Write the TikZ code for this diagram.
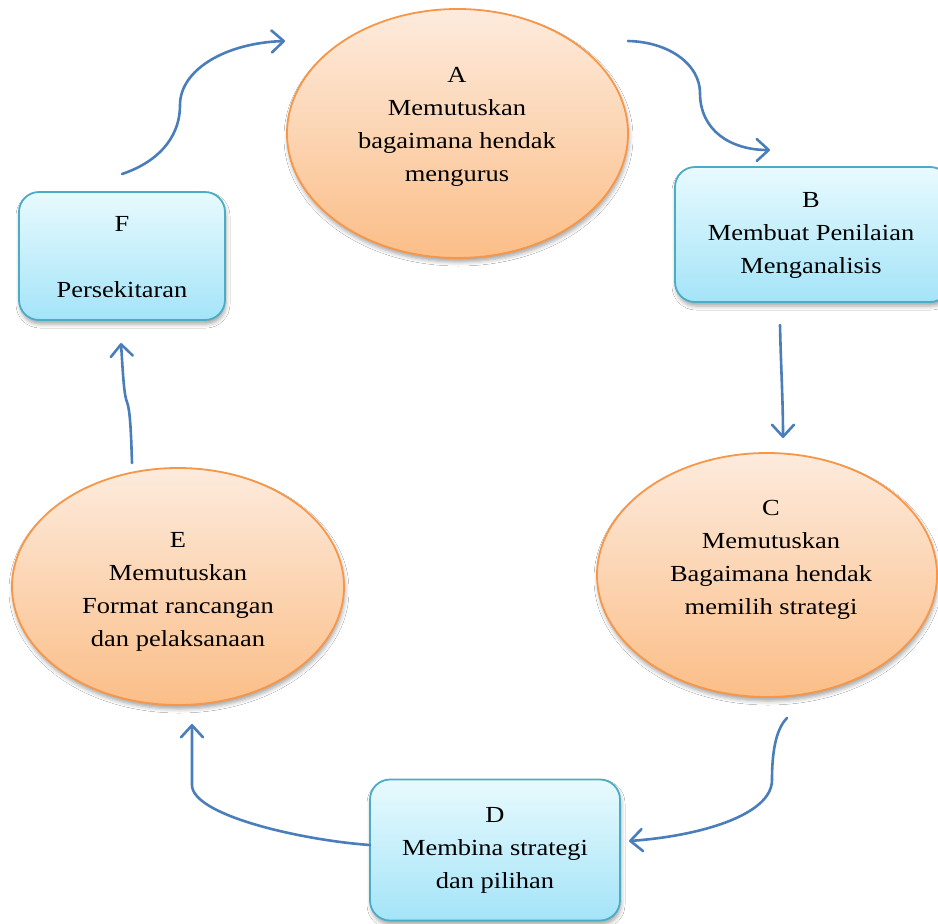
\documentclass[tikz,border=0pt]{standalone}
\usepackage{fontspec}
\setmainfont[FakeStretch=1.15]{Liberation Serif}
\usetikzlibrary{arrows.meta,shapes.geometric,shadows.blur}
\definecolor{ornBorder}{HTML}{F79646}
\definecolor{ornTop}{HTML}{FDEBDD}
\definecolor{ornBot}{HTML}{FBBE88}
\definecolor{cyBorder}{HTML}{4BACC6}
\definecolor{cyTop}{HTML}{E8FAFE}
\definecolor{cyBot}{HTML}{A4E4F8}
\definecolor{arrBlue}{HTML}{4A7EBB}
\begin{document}
\begin{tikzpicture}[x=1pt,y=-1pt,
  shd/.style={blur shadow={shadow xshift=1pt,shadow yshift=-4pt,shadow blur radius=4pt,shadow opacity=35}},
  ell/.style={ellipse,draw=ornBorder,line width=1.8pt,top color=ornTop,bottom color=ornBot,inner sep=0pt,shd},
  boxn/.style={rectangle,rounded corners=20pt,draw=cyBorder,line width=1.8pt,top color=cyTop,bottom color=cyBot,inner sep=0pt,shd},
  lbl/.style={align=center,inner sep=0pt,font=\fontsize{23}{33}\selectfont},
  arr/.style={draw=arrBlue,line width=2.6pt,line cap=round,-{Straight Barb[length=12pt,width=22pt,round]}}]
\clip (0,0) rectangle (938,924);
\fill[white] (0,0) rectangle (938,924);
% shapes
\node[ell,minimum width=341pt,minimum height=249pt] (A) at (457.5,133.5) {};
\node[ell,minimum width=340pt,minimum height=244pt] (C) at (767,575) {};
\node[ell,minimum width=332pt,minimum height=237pt] (E) at (178,586.5) {};
\node[boxn,minimum width=275pt,minimum height=135pt] (B) at (812.5,234.5) {};
\node[boxn,minimum width=250pt,minimum height=141pt] (D) at (495,850) {};
\node[boxn,minimum width=206pt,minimum height=128pt] (F) at (122,256) {};
% texts
\node[lbl] (At) at (457,125.4) {\strut A\\\strut Memutuskan\\\strut bagaimana hendak\\\strut mengurus};
\node[lbl] (Bt) at (811,233.4) {\strut B\\\strut Membuat Penilaian\\\strut Menganalisis};
\node[lbl] (Ct) at (771,558) {\strut C\\\strut Memutuskan\\\strut Bagaimana hendak\\\strut memilih strategi};
\node[lbl] (Dt) at (495,848.4) {\strut D\\\strut Membina strategi\\\strut dan pilihan};
\node[lbl] (Et) at (178,590) {\strut E\\\strut Memutuskan\\\strut Format rancangan\\\strut dan pelaksanaan};
\node[lbl] (Ft) at (122,257.4) {\strut F\\\strut\\\strut Persekitaran};
% connector ends
\coordinate (fa1) at (122,174);
\coordinate (fa2) at (285,41);
\coordinate (ab1) at (628,41);
\coordinate (ab2) at (770,150);
\coordinate (bc1) at (780,325);
\coordinate (bc2) at (783,438);
\coordinate (cd1) at (787,718);
\coordinate (cd2) at (629,841);
\coordinate (de1) at (370,845);
\coordinate (de2) at (192,724);
\coordinate (ef1) at (132,463);
\coordinate (ef2) at (121,343);
% connectors
\draw[arr] (fa1) .. controls (155,163) and (180,140) .. (180,105) .. controls (180,70) and (225,43) .. (fa2);
\draw[arr] (ab1) .. controls (670,42) and (700,65) .. (700,93) .. controls (700,130) and (730,150) .. (ab2);
\draw[arr] (bc1) .. controls (781,370) and (783,400) .. (bc2);
\draw[arr] (cd1) .. controls (775,730) and (772,755) .. (772,780) .. controls (772,815) and (700,836) .. (cd2);
\draw[arr] (de1) .. controls (300,840) and (192,815) .. (192,785) -- (de2);
\draw[arr] (ef1) .. controls (131,430) and (130,410) .. (127,402) .. controls (124,395) and (123,375) .. (ef2);
\end{tikzpicture}
\end{document}
